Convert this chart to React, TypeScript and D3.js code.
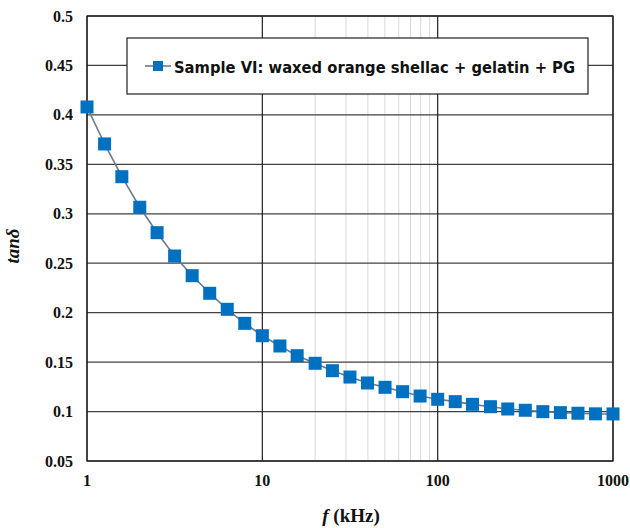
import React from "react";
import * as d3 from "d3";

const freqs = [1, 1.26, 1.58, 2, 2.51, 3.16, 3.98, 5.01, 6.31, 7.94, 10, 12.6, 15.8, 20, 25.1, 31.6, 39.8, 50.1, 63.1, 79.4, 100, 126, 158, 200, 251, 316, 398, 501, 631, 794, 1000];
const tanDelta = [0.408, 0.3706, 0.3375, 0.3066, 0.2809, 0.2573, 0.2374, 0.2196, 0.2034, 0.1892, 0.1767, 0.1663, 0.1565, 0.1488, 0.1413, 0.1349, 0.1289, 0.1245, 0.1201, 0.1157, 0.1124, 0.11, 0.1073, 0.1049, 0.1026, 0.1013, 0.0999, 0.0989, 0.0983, 0.0977, 0.0976];
const yTicks = [0.05, 0.1, 0.15, 0.2, 0.25, 0.3, 0.35, 0.4, 0.45, 0.5];
const yTickLabels = ["0.05", "0.1", "0.15", "0.2", "0.25", "0.3", "0.35", "0.4", "0.45", "0.5"];
const xTicks = [1, 10, 100, 1000];
const xMinor = [20, 30, 40, 50, 60, 70, 80, 90];
const seriesName = "Sample VI: waxed orange shellac + gelatin + PG";

export default function App() {
  const W = 630, H = 528;
  const left = 87, right = 613, top = 16, bottom = 461;
  const x = d3.scaleLog().domain([1, 1000]).range([left, right]);
  const y = d3.scaleLinear().domain([0.05, 0.5]).range([bottom, top]);
  const line = d3.line<number>().x((_, i) => x(freqs[i])).y((d) => y(d));
  const ms = 13;
  const blue = "#0070C0";
  const serif = "'Liberation Serif', 'Times New Roman', serif";
  const sans = "'DejaVu Sans', Verdana, sans-serif";
  return (
    <svg width={W} height={H} style={{ position: "absolute", left: 0, top: 0, background: "#fff" }}>
      <rect x={0} y={0} width={W} height={H} fill="#fff" />
      {xMinor.map((v) => (
        <line key={"m" + v} x1={x(v)} x2={x(v)} y1={top} y2={bottom} stroke="#d9d9d9" strokeWidth={1} />
      ))}
      {yTicks.map((v) => (
        <line key={"h" + v} x1={left} x2={right} y1={y(v)} y2={y(v)} stroke="#404040" strokeWidth={1.3} />
      ))}
      {xTicks.map((v) => (
        <line key={"v" + v} x1={x(v)} x2={x(v)} y1={top} y2={bottom} stroke="#202020" strokeWidth={1.2} />
      ))}
      <rect x={left} y={top} width={right - left} height={bottom - top} fill="none" stroke="#202020" strokeWidth={1.2} />
      {yTicks.map((v, i) => (
        <text key={"yl" + v} x={73} y={y(v)} dy="0.35em" textAnchor="end" fontFamily={serif} fontWeight="bold" fontSize={16} fill="#111">
          {yTickLabels[i]}
        </text>
      ))}
      {xTicks.map((v) => (
        <text key={"xl" + v} x={x(v)} y={486} textAnchor="middle" fontFamily={serif} fontWeight="bold" fontSize={16} fill="#111">
          {v}
        </text>
      ))}
      <path d={line(tanDelta) || ""} fill="none" stroke="#6a7a90" strokeWidth={1.6} />
      {tanDelta.map((v, i) => (
        <rect key={"p" + i} x={x(freqs[i]) - ms / 2} y={y(v) - ms / 2} width={ms} height={ms} fill={blue} />
      ))}
      <g>
        <rect x={127} y={38} width={461} height={56} fill="#fff" stroke="#202020" strokeWidth={1.2} />
        <line x1={145} x2={171} y1={66} y2={66} stroke="#6a7a90" strokeWidth={1.6} />
        <rect x={153} y={61} width={10} height={10} fill={blue} />
        <text x={174} y={72.5} fontFamily={sans} fontWeight="bold" fontSize={16.5} fill="#111" textLength={401} lengthAdjust="spacingAndGlyphs">
          {seriesName}
        </text>
      </g>
      <text transform={`translate(19,246) rotate(-90)`} textAnchor="middle" fontFamily={serif} fontWeight="bold" fontStyle="italic" fontSize={19} fill="#111">
        tanδ
      </text>
      <text x={351} y={522} textAnchor="middle" fontFamily={serif} fontWeight="bold" fontSize={19} fill="#111">
        <tspan fontStyle="italic">f</tspan>
        <tspan> (kHz)</tspan>
      </text>
    </svg>
  );
}
